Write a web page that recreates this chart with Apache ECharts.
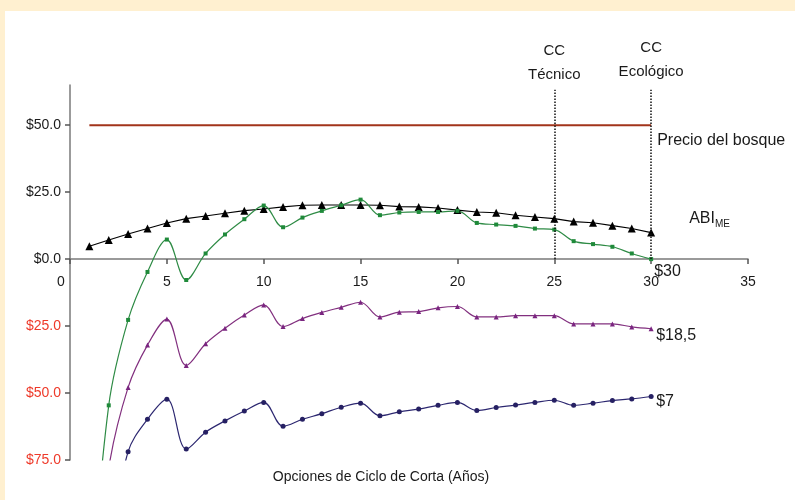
<!DOCTYPE html>
<html>
<head>
<meta charset="utf-8">
<script src="https://cdn.jsdelivr.net/npm/echarts@6/dist/echarts.min.js"></script>
<style>
html,body{margin:0;padding:0;background:#FFF0D0;width:795px;height:500px;overflow:hidden;}
#c{position:absolute;left:5px;top:11px;width:790px;height:489px;background:#ffffff;}
</style>
</head>
<body>
<div id="c"></div>
<script>
// ---- data ----
var years = [1,2,3,4,5,6,7,8,9,10,11,12,13,14,15,16,17,18,19,20,21,22,23,24,25,26,27,28,29,30];
var precioBosque = [50,50,50,50,50,50,50,50,50,50,50,50,50,50,50,50,50,50,50,50,50,50,50,50,50,50,50,50,50,50];
var abiME = [4.8,7.1,9.4,11.4,13.5,15.1,16.1,17.1,18.1,18.7,19.5,20.1,20.2,20.2,20.2,20.1,19.6,19.5,19.1,18.3,17.6,17.3,16.4,15.7,15.1,14.0,13.6,12.5,11.4,9.9];
var precio30 = [-135,-54.6,-22.7,-4.8,7.3,-7.8,2.1,9.2,14.9,20.0,11.9,15.5,18.0,20.1,22.2,16.4,17.4,17.6,17.6,18.0,13.5,12.9,12.4,11.4,11.0,6.7,5.6,4.6,2.1,0];
var precio185 = [-140,-78,-47.9,-32.1,-22.4,-39.7,-31.6,-25.8,-20.9,-17.1,-25.2,-22.2,-19.9,-18.0,-16.1,-21.6,-19.8,-19.6,-18.2,-17.7,-21.6,-21.6,-21.1,-21.1,-21.1,-24.2,-24.2,-24.2,-25.3,-26.0];
var precio7 = [-170,-110,-71.9,-59.8,-52.3,-70.9,-64.6,-60.4,-56.7,-53.5,-62.4,-59.8,-57.7,-55.3,-53.8,-58.5,-57.0,-56.0,-54.6,-53.5,-56.5,-55.4,-54.5,-53.5,-52.7,-54.6,-53.8,-52.8,-52.2,-51.3];
var yTicks = [-75,-50,-25,0,25,50];
var yMin = -75, yMax = 65;
var ccTecnico = 25, ccEcologico = 30;

function pairs(vals){ return years.map(function(x,i){ return [x, vals[i]]; }); }

var FONT = "'Liberation Sans', Arial, sans-serif";
var TXT = '#1a1a1a';
var GRID = {left:65, right:47, top:74, bottom:40};
var gridH = 489 - GRID.top - GRID.bottom;
var xOffset = -((0 - yMin) / (yMax - yMin)) * gridH;

var chart = echarts.init(document.getElementById('c'), null, {renderer:'canvas'});
chart.setOption({
  animation:false,
  textStyle:{fontFamily:FONT},
  grid:GRID,
  xAxis:{
    type:'value', min:0, max:35, interval:5,
    position:'bottom', offset:xOffset,
    splitLine:{show:false},
    axisLine:{onZero:false, lineStyle:{color:'#7a7a7a', width:1.5}},
    axisTick:{show:true, inside:false, length:5, lineStyle:{color:'#555', width:1.5}},
    axisLabel:{
      margin:16, fontSize:14, color:TXT, fontFamily:FONT,
      formatter:function(v){ return v===0 ? '{z|0}' : String(v); },
      rich:{z:{fontSize:14, color:TXT, fontFamily:FONT, padding:[0,18,0,0]}}
    }
  },
  yAxis:{
    type:'value', min:yMin, max:yMax, interval:25,
    splitLine:{show:false},
    axisLine:{show:true, lineStyle:{color:'#7a7a7a', width:1.5}},
    axisTick:{show:true, length:5, lineStyle:{color:'#555', width:1.5}, customValues:yTicks},
    axisLabel:{
      customValues:yTicks,
      margin:9, fontSize:14, fontFamily:FONT,
      formatter:function(v){
        var s = '$' + Math.abs(v).toFixed(1);
        return v < 0 ? '{n|' + s + '}' : '{p|' + s + '}';
      },
      rich:{
        n:{color:'#EE3A2A', fontSize:14, fontFamily:FONT},
        p:{color:TXT, fontSize:14, fontFamily:FONT}
      }
    }
  },
  graphic:[{
    type:'text', x:376, y:466,
    style:{text:'Opciones de Ciclo de Corta (Años)', fill:TXT, font:'14px ' + FONT, textAlign:'center', textVerticalAlign:'middle'}
  }],
  series:[
    {
      name:'Precio del bosque', type:'line', data:pairs(precioBosque),
      symbol:'none', lineStyle:{color:'#A2341B', width:2},
      endLabel:{show:true, formatter:'Precio del bosque', offset:[-2,15], fontSize:16, color:TXT, fontFamily:FONT},
      markLine:{
        silent:true, symbol:'none',
        lineStyle:{color:'#111', type:'dotted', width:1.5},
        data:[
          [{coord:[ccTecnico,0]},{coord:[ccTecnico,63.2], label:{show:true, position:'end', formatter:'CC\nTécnico', distance:3, fontSize:15, lineHeight:24, color:TXT, fontFamily:FONT}}],
          [{coord:[ccEcologico,0]},{coord:[ccEcologico,63.2], label:{show:true, position:'end', formatter:'CC\nEcológico', distance:6, fontSize:15, lineHeight:24, color:TXT, fontFamily:FONT}}]
        ]
      }
    },
    {
      name:'ABI_ME', type:'line', data:pairs(abiME),
      symbol:'triangle', symbolSize:8, itemStyle:{color:'#000'},
      lineStyle:{color:'#000', width:1.1},
      endLabel:{show:true, offset:[30,-14], formatter:'{a|ABI}{s|ME}',
        rich:{a:{fontSize:16, color:TXT, fontFamily:FONT}, s:{fontSize:10, color:TXT, fontFamily:FONT, padding:[12,0,0,0]}}}
    },
    {
      name:'$30', type:'line', data:pairs(precio30), smooth:0.35,
      symbol:'rect', symbolSize:4, itemStyle:{color:'#1F8A3A'},
      lineStyle:{color:'#2E8B45', width:1.2},
      endLabel:{show:true, formatter:'$30', offset:[-5,12], fontSize:16, color:TXT, fontFamily:FONT}
    },
    {
      name:'$18,5', type:'line', data:pairs(precio185), smooth:0.35,
      symbol:'triangle', symbolSize:5, itemStyle:{color:'#7A2580'},
      lineStyle:{color:'#82307F', width:1.2},
      endLabel:{show:true, formatter:'$18,5', offset:[-3,7], fontSize:16, color:TXT, fontFamily:FONT}
    },
    {
      name:'$7', type:'line', data:pairs(precio7), smooth:0.35,
      symbol:'circle', symbolSize:5, itemStyle:{color:'#262063'},
      lineStyle:{color:'#2C2770', width:1.2},
      endLabel:{show:true, formatter:'$7', offset:[-3,5], fontSize:16, color:TXT, fontFamily:FONT}
    }
  ]
});
</script>
</body>
</html>
